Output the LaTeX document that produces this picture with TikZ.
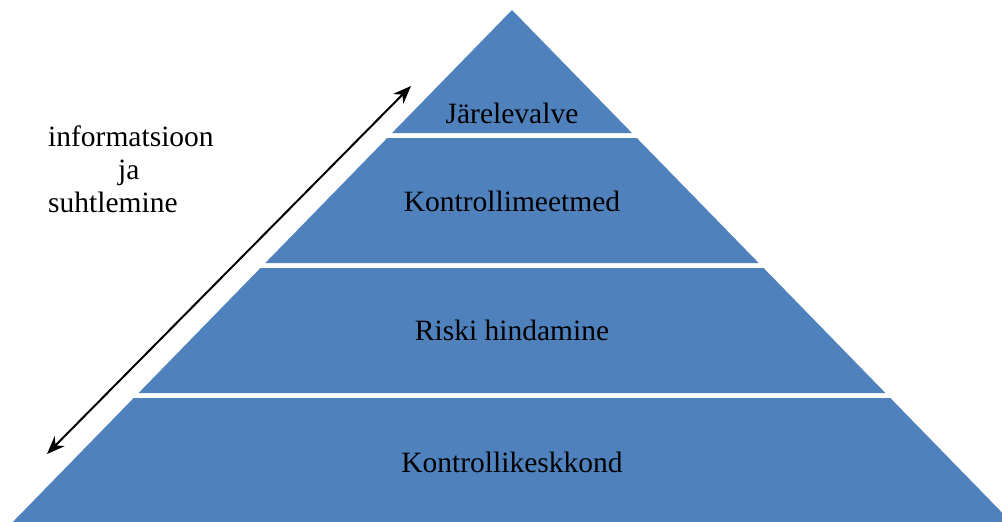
\documentclass[tikz,border=0pt]{standalone}
\usepackage{fontspec}
\setmainfont{Liberation Serif}
\usetikzlibrary{arrows.meta}
\usetikzlibrary{positioning}

\definecolor{layerblue}{HTML}{4F81BD}
\tikzset{
    layer/.style={fill=layerblue},
    lbl/.style={font=\fontsize{29.5}{33}\selectfont, anchor=base, inner sep=0pt},
}

\begin{document}
\begin{tikzpicture}[x=1pt,y=-1pt]
    \useasboundingbox (0,0) rectangle (1002,522);
    \clip (0,0) rectangle (1002,522);
    % pyramid, apex (512,10), half width 0.975 per unit of depth
    \fill[layer] (512,10) -- (512+0.975*123,133) -- (512-0.975*123,133) -- cycle;
    \fill[layer] (512-0.975*128,138) -- (512+0.975*128,138) -- (512+0.975*253,263) -- (512-0.975*253,263) -- cycle;
    \fill[layer] (512-0.975*258,268) -- (512+0.975*258,268) -- (512+0.975*383,393) -- (512-0.975*383,393) -- cycle;
    \fill[layer] (512-0.975*388,398) -- (512+0.975*388,398) -- (512+0.975*520,530) -- (512-0.975*520,530) -- cycle;
    \node[lbl] (jarel) at (512,123) {Järelevalve};
    \node[lbl] (meetmed) at (512,211) {Kontrollimeetmed};
    \node[lbl] (riski) at (512,340) {Riski hindamine};
    \node[lbl] (keskkond) at (512,472) {Kontrollikeskkond};
    % side arrow
    \coordinate (low) at (47,454);
    \coordinate (high) at (411,86);
    \draw[{Stealth[length=18pt,width=14pt]}-{Stealth[length=18pt,width=14pt]}, line width=2pt] (low) -- (high);
    \node[lbl, anchor=base west, align=left] (info) at (48,212) {informatsioon\\\hspace{70pt}ja\\suhtlemine};
\end{tikzpicture}
\end{document}
